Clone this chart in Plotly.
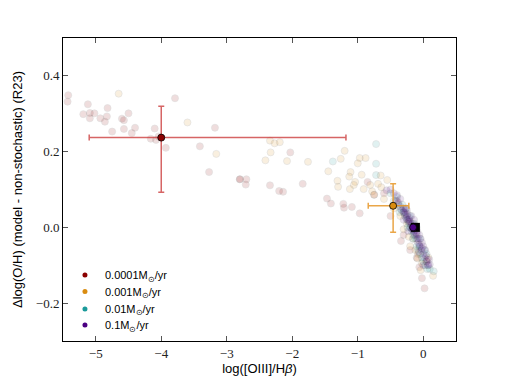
import plotly.graph_objects as go

# scatter points
red_x = [-5.42, -5.43, -5.12, -4.82, -5.19, -5.09, -5.02, -5.09, -4.93, -4.83, -4.86, -4.60, -4.57,
         -4.50, -4.75, -4.57, -4.40, -4.45, -4.10, -4.16, -4.08, -4.04, -3.93, -3.79, -3.41, -3.27,
         -3.18, -2.80, -2.80, -2.70, -2.71, -2.03, -2.34, -2.20, -2.14, -1.84, -1.47, -1.41, -1.21,
         -1.22, -1.09, -0.97, -0.34, -0.06, -0.02, 0.02, -0.75, -0.60, -0.50, -0.30, -0.20, -0.10,
         -0.85, -0.40]
red_y = [0.349, 0.332, 0.325, 0.315, 0.299, 0.302, 0.301, 0.288, 0.288, 0.293, 0.279, 0.287, 0.283,
         0.301, 0.253, 0.260, 0.263, 0.249, 0.261, 0.234, 0.231, 0.240, 0.210, 0.341, 0.214, 0.146,
         0.263, 0.127, 0.127, 0.127, 0.113, 0.198, 0.111, 0.096, 0.094, 0.115, 0.076, 0.063, 0.052,
         0.062, 0.054, 0.037, -0.036, -0.105, -0.134, -0.161, 0.086, 0.090, 0.030, -0.020, -0.060,
         -0.080, 0.120, 0.070]

orange_x = [-4.65, -3.60, -3.16, -2.34, -2.27, -2.19, -2.33, -2.41, -2.08, -1.76, -1.45, -1.20, -1.26,
            -0.97, -0.88, -1.00, -1.11, -1.13, -1.31, -1.30, -1.04, -1.06, -1.12, -0.94, -0.81, -0.91,
            -0.65, -0.69, -0.64, -0.55, -0.78, -0.75, -0.60, -0.45, -0.35, -0.25, -0.15, -0.12, -0.09,
            -0.04, 0.15, -0.20, 0.05, -0.30, -0.22, -0.08, -0.02, 0.08]
orange_y = [0.353, 0.277, 0.194, 0.229, 0.222, 0.225, 0.198, 0.177, 0.175, 0.173, 0.148, 0.202, 0.181,
            0.183, 0.183, 0.169, 0.146, 0.134, 0.123, 0.107, 0.120, 0.112, 0.101, 0.139, 0.112, 0.101,
            0.137, 0.115, 0.106, 0.125, 0.095, 0.086, 0.075, 0.050, 0.030, 0.010, -0.030, -0.060, -0.082,
            -0.113, -0.128, -0.050, -0.090, -0.005, -0.025, -0.070, -0.095, -0.080]

teal_x = [-1.38, -0.72, -0.72, -0.72, -0.40, -0.38, -0.35, -0.30, -0.28, -0.25, -0.22, -0.20, -0.18,
          -0.15, -0.12, -0.10, -0.08, -0.05, -0.02, 0.00, 0.03, 0.06, 0.10, 0.16, -0.26, -0.32, -0.20,
          -0.14, -0.10, -0.05, 0.02, -0.45, -0.50, -0.36, -0.24, -0.16, -0.06, 0.05]
teal_y = [0.174, 0.220, 0.168, 0.138, 0.080, 0.060, 0.050, 0.040, 0.030, 0.020, 0.010, 0.000, -0.010,
          -0.020, -0.030, -0.050, -0.060, -0.070, -0.080, -0.090, -0.100, -0.110, -0.110, -0.116, 0.050,
          0.060, 0.030, 0.010, 0.000, -0.030, -0.060, 0.070, 0.090, 0.040, 0.000, -0.030, -0.050, -0.070]

purple_x = [-0.56, -0.50, -0.45, -0.42, -0.38, -0.35, -0.33, -0.30, -0.28, -0.26, -0.24, -0.22, -0.20,
            -0.19, -0.17, -0.15, -0.13, -0.12, -0.10, -0.09, -0.08, -0.06, -0.05, -0.03, -0.02, 0.00,
            0.02, 0.03, 0.05, 0.07, 0.10, -0.25, -0.30, -0.18, -0.14, -0.40, -0.35, -0.23, -0.07, 0.00,
            -0.30, -0.28, -0.27, -0.25, -0.24, -0.22, -0.21, -0.20, -0.18, -0.17, -0.16, -0.14, -0.13,
            -0.11, -0.10, -0.08, -0.06, -0.04, -0.02, 0.00, 0.04, 0.06, 0.08, 0.09]
purple_y = [0.098, 0.100, 0.090, 0.070, 0.065, 0.055, 0.045, 0.040, 0.035, 0.025, 0.020, 0.015, 0.010,
            0.000, -0.005, -0.010, -0.020, 0.005, -0.030, -0.010, -0.040, -0.020, -0.050, -0.060, -0.040,
            -0.070, -0.080, -0.060, -0.090, -0.100, -0.098, 0.045, 0.020, 0.030, 0.020, 0.085, 0.075,
            -0.010, -0.065, -0.100, 0.050, 0.040, 0.050, 0.030, 0.035, 0.020, 0.025, 0.015, 0.005, 0.010,
            -0.005, -0.010, 0.000, -0.015, -0.020, -0.030, -0.045, -0.030, -0.055, -0.050, -0.075, -0.085,
            -0.100, -0.085]

# mean values with error bars
mean_x = [-4.0, -0.46, -0.155]
mean_y = [0.237, 0.057, 0.0]
err_x_minus = [1.10, 0.38, 0.0]
err_x_plus = [2.82, 0.24, 0.0]
err_y_minus = [0.144, 0.070, 0.0]
err_y_plus = [0.083, 0.058, 0.0]
square_x = [-0.12]
square_y = [0.0]

labels = ["0.0001M<sub>⊙</sub>/yr", "0.001M<sub>⊙</sub>/yr", "0.01M<sub>⊙</sub>/yr", "0.1M<sub>⊙</sub>/yr"]
colors = ["#8b0000", "#d98c10", "#1a9a9a", "#4b0082"]
err_colors = ["rgba(200,50,50,0.75)", "rgba(230,150,40,0.85)", "rgba(0,0,0,0)"]

fig = go.Figure()

series = [(red_x, red_y), (orange_x, orange_y), (teal_x, teal_y), (purple_x, purple_y)]
for (sx, sy), c in zip(series, colors):
    # per-point alpha so overlapping points build up like in matplotlib
    fig.add_trace(go.Scatter(x=sx, y=sy, mode="markers", showlegend=False,
                             marker=dict(size=7, color=c, opacity=0.13,
                                         line=dict(color="black", width=0.6))))

fig.add_trace(go.Scatter(x=square_x, y=square_y, mode="markers", showlegend=False,
                         marker=dict(symbol="square", size=9, color="black")))

for i in range(3):
    fig.add_trace(go.Scatter(
        x=[mean_x[i]], y=[mean_y[i]], mode="markers", showlegend=False,
        marker=dict(size=7, color=colors[[0, 1, 3][i]], line=dict(color="black", width=0.8)),
        error_x=dict(type="data", symmetric=False, array=[err_x_plus[i]], arrayminus=[err_x_minus[i]],
                     color=err_colors[i], thickness=1.5, width=3),
        error_y=dict(type="data", symmetric=False, array=[err_y_plus[i]], arrayminus=[err_y_minus[i]],
                     color=err_colors[i], thickness=1.5, width=3)))

# one small legend per entry so the spacing matches
legend_names = ["legend", "legend2", "legend3", "legend4"]
legend_y = [0.218, 0.163, 0.106, 0.053]
for lab, c, ln in zip(labels, colors, legend_names):
    fig.add_trace(go.Scatter(x=[None], y=[None], mode="markers", name=lab, legend=ln,
                             marker=dict(size=5, color=c)))

axis_common = dict(showline=True, linecolor="black", linewidth=1, mirror="allticks",
                   ticks="inside", ticklen=5, tickcolor="#555", showgrid=False, zeroline=False,
                   automargin=False,
                   tickfont=dict(family="Liberation Serif", size=13, color="#222"))

fig.update_layout(
    width=507, height=380,
    margin=dict(l=63, r=51, t=38, b=39),
    plot_bgcolor="white", paper_bgcolor="white",
    font=dict(family="Liberation Sans", size=12, color="black"),
    xaxis=dict(range=[-5.5, 0.5], tickvals=[-5, -4, -3, -2, -1, 0],
               ticktext=["\u22125", "\u22124", "\u22123", "\u22122", "\u22121", "0"],
               title=dict(text="log([OIII]/H<i>\u03b2</i>)", standoff=2, font=dict(size=13)),
               **axis_common),
    yaxis=dict(range=[-0.3, 0.5], tickvals=[-0.2, 0.0, 0.2, 0.4],
               ticktext=["\u22120.2", "0.0", "0.2", "0.4"],
               title=dict(text="\u0394log(O/H) (model - non-stochastic) (R23)", standoff=10,
                          font=dict(size=13)),
               **axis_common),
)
for ln, ly in zip(legend_names, legend_y):
    fig.update_layout({ln: dict(x=0.005, y=ly, xanchor="left", yanchor="middle",
                                bgcolor="rgba(0,0,0,0)", font=dict(size=11), itemwidth=30)})

fig.write_html("out.html", config={"displayModeBar": False},
               post_script="document.body.style.margin='0';")
